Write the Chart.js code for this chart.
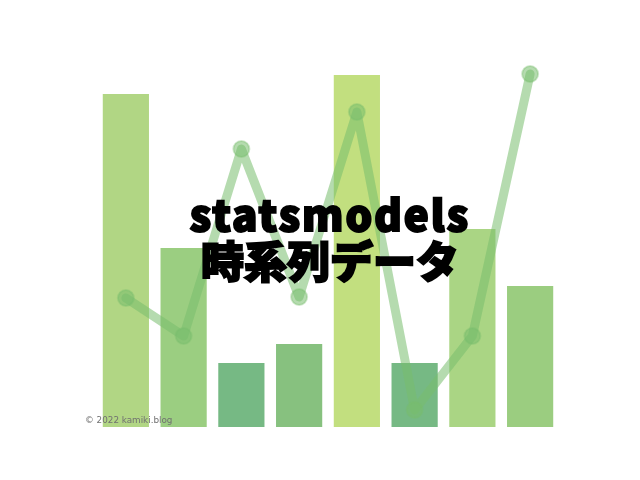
<!DOCTYPE html>
<html lang="ja">
<head>
  <meta charset="UTF-8">
  <title>statsmodels 時系列データ</title>
  <style>
    body {
      margin: 0;
      background: #fff;
    }
    .wrap {
      position: relative;
      width: 640px;
      height: 480px;
    }
    .title {
      position: absolute;
      left: 0;
      width: 640px;
      text-align: center;
      font-family: 'Noto Sans CJK JP', sans-serif;
      font-weight: 900;
      color: #000;
      white-space: nowrap;
      -webkit-text-stroke: 2px #000;
    }
    .t1 {
      top: 188px;
      font-size: 42px;
      line-height: 50px;
      letter-spacing: 2px;
      padding-left: 10px;
    }
    .t2 {
      top: 233px;
      font-size: 43px;
      line-height: 52px;
      letter-spacing: 0;
      padding-left: 10px;
    }
    .credit {
      position: absolute;
      left: 85px;
      top: 415px;
      font-family: 'DejaVu Sans', sans-serif;
      font-size: 8.8px;
      color: #707070;
    }
  </style>
  <script src="https://cdn.jsdelivr.net/npm/chart.js"></script>
</head>
<body>
  <div class="wrap">
    <canvas id="chart" width="640" height="480"></canvas>
    <div class="title t1">statsmodels</div>
    <div class="title t2">時系列データ</div>
    <div class="credit">© 2022 kamiki.blog</div>
  </div>

  <script>
    const labels = ['1', '2', '3', '4', '5', '6', '7', '8'];
    const barValues = [333, 179, 64, 83, 352, 64, 198, 141];
    const lineValues = [129, 91, 278, 130, 315, 17, 91, 353];
    const barColors = ['#b1d684', '#9bce81', '#76b984', '#87c17f', '#c2df7f', '#76b984', '#aad584', '#9bcd80'];

    const ctx = document.getElementById('chart').getContext('2d');
    new Chart(ctx, {
      data: {
        labels: labels,
        datasets: [{
          type: 'line',
          data: lineValues,
          order: 0,
          borderColor: 'rgba(120, 190, 110, 0.55)',
          borderWidth: 9,
          borderJoinStyle: 'round',
          borderCapStyle: 'round',
          pointRadius: 8,
          pointBackgroundColor: 'rgba(120, 190, 110, 0.55)',
          pointBorderColor: 'rgba(120, 190, 110, 0.35)',
          pointBorderWidth: 2,
          tension: 0,
          clip: false
        }, {
          type: 'bar',
          data: barValues,
          order: 1,
          backgroundColor: barColors,
          barPercentage: 0.8,
          categoryPercentage: 1
        }]
      },
      options: {
        responsive: false,
        animation: false,
        layout: {
          padding: { left: 97, right: 81, top: 67, bottom: 53 }
        },
        scales: {
          x: { display: false },
          y: { display: false, min: 0, max: 360 }
        },
        plugins: {
          legend: { display: false },
          tooltip: { enabled: false }
        }
      }
    });
  </script>
</body>
</html>
